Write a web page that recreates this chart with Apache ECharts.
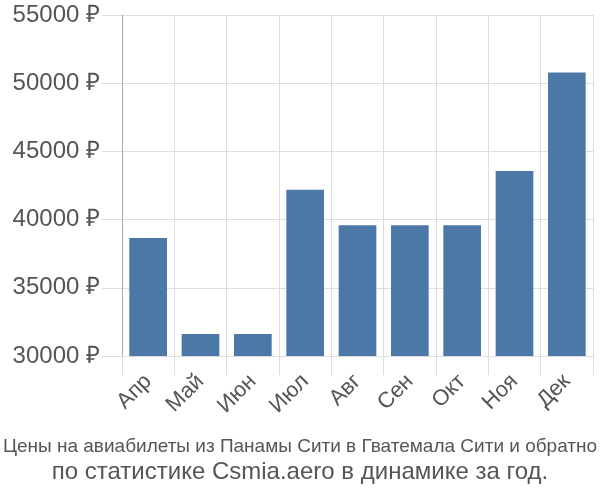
<!DOCTYPE html>
<html><head><meta charset="utf-8">
<script src="https://cdn.jsdelivr.net/npm/echarts@6/dist/echarts.min.js"></script>
<style>html,body{margin:0;padding:0;background:#fff}#c{width:600px;height:500px}</style>
</head><body><div id="c"></div>
<script>
const categories = ["Апр","Май","Июн","Июл","Авг","Сен","Окт","Ноя","Дек"];
const prices = [38650, 31620, 31620, 42180, 39590, 39590, 39590, 43560, 50780];
const yTicks = [30000, 35000, 40000, 45000, 50000, 55000];
const titleLine1 = "Цены на авиабилеты из Панамы Сити в Гватемала Сити и обратно";
const titleLine2 = "по статистике Csmia.aero в динамике за год.";

const chart = echarts.init(document.getElementById('c'), null, {renderer:'canvas'});
chart.setOption({
  animation:false,
  grid:{left:122, right:7, top:15, bottom:144},
  xAxis:{
    type:'category', data:categories, boundaryGap:true,
    axisLine:{show:true, lineStyle:{color:'#ddd'}},
    axisTick:{show:true, length:19, alignWithLabel:false, lineStyle:{color:'#ddd'}},
    splitLine:{show:true, interval:0, lineStyle:{color:'#ddd'}},
    axisLabel:{rotate:45, fontSize:22, color:'#555', fontFamily:'Liberation Sans, Arial, sans-serif', margin:22, interval:0}
  },
  yAxis:{
    type:'value', min:yTicks[0], max:yTicks[yTicks.length-1], interval:5000,
    axisLine:{show:true, lineStyle:{color:'#aaa'}},
    axisTick:{show:true, length:20, lineStyle:{color:'#ddd'}},
    splitLine:{show:true, lineStyle:{color:'#ddd'}},
    axisLabel:{fontSize:24, color:'#555', fontFamily:'Liberation Sans, Arial, sans-serif', margin:22,
      formatter:v=>v+' ₽'}
  },
  series:[{type:'bar', data:prices, barCategoryGap:'28%',
    itemStyle:{color:'#4c78a8'}}],
  graphic:[
    {type:'text', left:'center', top:437, style:{text:titleLine1, fontSize:19, fill:'#555', fontFamily:'Liberation Sans Narrow, Arial Narrow, sans-serif'}},
    {type:'text', left:'center', top:460, style:{text:titleLine2, fontSize:24, fill:'#555', fontFamily:'Liberation Sans, Arial, sans-serif'}}
  ]
});
</script></body></html>
